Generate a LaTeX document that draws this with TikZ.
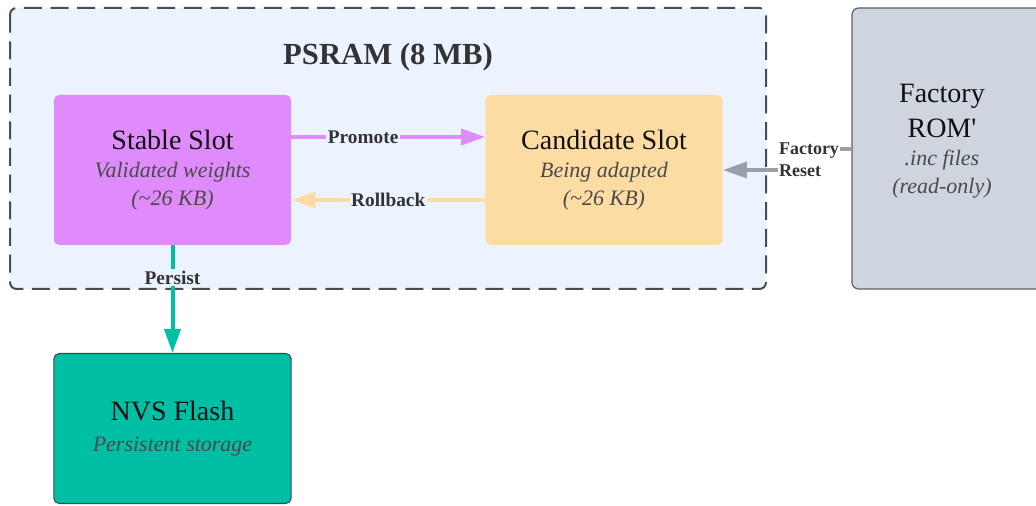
\documentclass[tikz,border=0pt]{standalone}
\usepackage{fontspec}
\setmainfont{Liberation Serif}
\usetikzlibrary{arrows.meta}
\definecolor{contfill}{HTML}{EBF4FE}
\definecolor{contdraw}{HTML}{474D55}
\definecolor{stablefill}{HTML}{DF8BFB}
\definecolor{candfill}{HTML}{FDDCA4}
\definecolor{romfill}{HTML}{CED5DE}
\definecolor{romdraw}{HTML}{5A6068}
\definecolor{nvsfill}{HTML}{00BFA5}
\definecolor{nvsdraw}{HTML}{3F4A4F}
\definecolor{grayarr}{HTML}{9AA0A8}
\definecolor{titletext}{HTML}{111111}
\definecolor{subtext}{HTML}{4A4A4A}
\definecolor{labeltext}{HTML}{333333}
\newcommand{\boxtitle}[1]{{\fontsize{21}{21}\selectfont\upshape\color{titletext}#1}}
\newcommand{\tld}{\char"7E\relax}
\newcommand{\straightq}{{\addfontfeatures{Ligatures=TeXOff}\char"27\relax}}
\tikzset{
  container/.style={draw=contdraw, fill=contfill, line width=1.5pt,
    dash pattern=on 13.5pt off 6.5pt, rounded corners=5pt},
  slotbox/.style={rounded corners=4pt, minimum width=178pt, minimum height=112.5pt,
    align=center, inner sep=0pt, text=subtext,
    font=\fontsize{16.5}{21}\selectfont\itshape},
  conn/.style={line width=3pt},
  bighead/.style={-{Triangle[length=18pt,width=12pt]}},
  edgelabel/.style={font=\fontsize{14.5}{16.5}\selectfont\bfseries, text=labeltext,
    inner sep=1pt},
}
\begin{document}
\begin{tikzpicture}[x=0.75pt, y=-0.75pt]
\useasboundingbox (0,0) rectangle (1036,506);
% container
\draw[container] (10,8) rectangle (766,289);
\node[font=\fontsize{23}{26}\selectfont\bfseries, text=labeltext] (title) at (388,57) {PSRAM (8 MB)};
% factory ROM (extends past right edge)
\draw[draw=romdraw, fill=romfill, line width=0.9pt, rounded corners=5pt] (852,8) rectangle (1060,289);
\node[align=center, inner sep=0pt, text=subtext, font=\fontsize{16.5}{21}\selectfont\itshape] (rom) at (942,141)
  {\boxtitle{Factory}\\[5pt]\boxtitle{ROM\straightq}\\.inc files\\(read-only)};
\coordinate (romw) at (852,149);
% slots
\node[slotbox, fill=stablefill] (stable) at (172.5,170) {\boxtitle{Stable Slot}\\Validated weights\\(\tld26 KB)};
\node[slotbox, fill=candfill] (cand) at (604,170) {\boxtitle{Candidate Slot}\\Being adapted\\(\tld26 KB)};
\node[slotbox, fill=nvsfill, draw=nvsdraw, line width=0.8pt] (nvs) at (172.5,428.5) {\boxtitle{NVS Flash}\\[2pt]Persistent storage};
% connectors
\draw[conn, stablefill, bighead] (stable.east |- 0,137) -- (cand.west |- 0,137)
  node[edgelabel, fill=contfill, pos=0.37] (promote) {Promote};
\draw[conn, candfill, bighead] (cand.west |- 0,200) -- (stable.east |- 0,200)
  node[edgelabel, fill=contfill, pos=0.5] (rollback) {Rollback};
\draw[conn, nvsfill, bighead] (stable.south) -- (nvs.north)
  node[edgelabel, fill=contfill, pos=0.3] (persist) {Persist};
\coordinate (frbend) at (809,0);
\draw[conn, grayarr, bighead, line width=2.6pt] (romw) -- (romw -| frbend) |- (cand.east);
\node[edgelabel, fill=white, align=left, font=\fontsize{13.5}{16.5}\selectfont\bfseries] (frlabel) at (809,160) {Factory\\Reset};
\end{tikzpicture}
\end{document}
